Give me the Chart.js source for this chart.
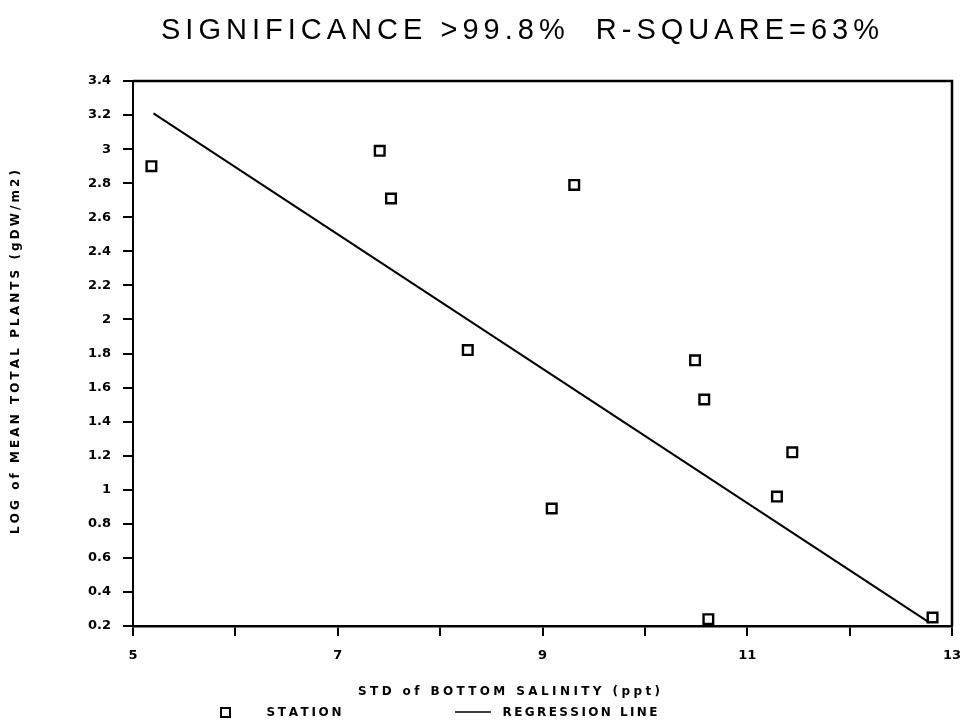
<!DOCTYPE html>
<html>
<head>
<meta charset="utf-8">
<style>
  html, body { margin: 0; padding: 0; background: #fff; }
  canvas { display: block; }
</style>
<script src="https://cdn.jsdelivr.net/npm/chart.js@4.4.1/dist/chart.umd.min.js"></script>
</head>
<body>
<canvas id="plot" width="963" height="727"></canvas>
<script>
// Station scatter: log plant biomass vs. std of bottom salinity, with fitted line.

const stationSalinityStd = [5.18, 7.41, 7.52, 8.27, 9.09, 9.31, 10.49, 10.58, 10.62, 11.29, 11.44, 12.81];
const stationLogPlants   = [2.90, 2.99, 2.71, 1.82, 0.89, 2.79, 1.76, 1.53, 0.24, 0.96, 1.22, 0.25];

// endpoints of the regression line
const fitX = [5.2, 12.78];
const fitY = [3.21, 0.22];

const titleText = 'SIGNIFICANCE >99.8%  R-SQUARE=63%';
const xTitle = 'STD of BOTTOM SALINITY (ppt)';
const yTitle = 'LOG of MEAN TOTAL PLANTS (gDW/m2)';
const legendLabels = ['STATION', 'REGRESSION LINE'];

const INK = '#000';

// draw text with its letters spread so it fills `width`, centred on (cx, cy)
function spacedText(ctx, text, cx, cy, width, rotate) {
  const chars = [...text];
  const widths = chars.map(ch => ctx.measureText(ch).width);
  const total = widths.reduce((s, w) => s + w, 0);
  const gap = chars.length > 1 ? (width - total) / (chars.length - 1) : 0;
  ctx.save();
  ctx.translate(cx, cy);
  if (rotate) ctx.rotate(rotate);
  ctx.textAlign = 'left';
  ctx.textBaseline = 'middle';
  let x = -width / 2;
  chars.forEach((ch, i) => {
    ctx.fillText(ch, x, 0);
    x += widths[i] + gap;
  });
  ctx.restore();
}

const frameAndText = {
  id: 'frameAndText',
  afterDraw(chart) {
    const { ctx, chartArea: a } = chart;
    ctx.save();
    ctx.strokeStyle = INK;
    ctx.fillStyle = INK;

    // top and right edges of the frame
    ctx.lineWidth = 2.5;
    ctx.beginPath();
    ctx.moveTo(a.left, a.top);
    ctx.lineTo(a.right, a.top);
    ctx.lineTo(a.right, a.bottom);
    ctx.stroke();

    // heading
    ctx.font = '29px "Liberation Sans"';
    spacedText(ctx, titleText, 520, 31, 718);

    // axis titles
    ctx.font = 'bold 12px "DejaVu Sans"';
    spacedText(ctx, xTitle, 509, 692, 302);
    spacedText(ctx, yTitle, 16, 352, 364, -Math.PI / 2);

    // key
    ctx.lineWidth = 2;
    ctx.strokeRect(221, 708, 9, 9);
    spacedText(ctx, legendLabels[0], 304, 713, 75);
    ctx.lineWidth = 1.5;
    ctx.beginPath();
    ctx.moveTo(455, 712);
    ctx.lineTo(491, 712);
    ctx.stroke();
    spacedText(ctx, legendLabels[1], 580, 713, 155);
    ctx.restore();
  },
};

const stations = stationSalinityStd.map((x, i) => ({ x, y: stationLogPlants[i] }));
const fitLine = fitX.map((x, i) => ({ x, y: fitY[i] }));

const tickFont = { family: '"DejaVu Sans"', size: 13, weight: 'bold' };

new Chart(document.getElementById('plot'), {
  type: 'scatter',
  data: {
    datasets: [
      {
        label: legendLabels[0],
        data: stations,
        pointStyle: 'rect',
        pointRadius: 6.8,
        pointHoverRadius: 6.8,
        pointBorderWidth: 2.4,
        pointBorderColor: INK,
        pointBackgroundColor: '#fff',
        showLine: false,
      },
      {
        label: legendLabels[1],
        data: fitLine,
        showLine: true,
        borderColor: INK,
        borderWidth: 2,
        pointRadius: 0,
        pointHoverRadius: 0,
        fill: false,
      },
    ],
  },
  options: {
    responsive: false,
    animation: false,
    events: [],
    layout: { padding: { top: 81, right: 11, left: 0, bottom: 0 } },
    plugins: {
      legend: { display: false },
      title: { display: false },
      tooltip: { enabled: false },
    },
    scales: {
      x: {
        type: 'linear',
        min: 5,
        max: 13,
        afterFit(scale) {
          scale.height = 101;
          // let the end labels hang over the edges instead of shrinking the plot
          scale.paddingLeft = 0;
          scale.paddingRight = 0;
        },
        ticks: {
          stepSize: 1,
          autoSkip: false,
          maxRotation: 0,
          color: INK,
          font: tickFont,
          padding: 12,
          callback: v => (v % 2 === 1 ? String(v) : ''),
        },
        grid: {
          drawOnChartArea: false,
          drawTicks: true,
          tickLength: 10,
          color: INK,
          lineWidth: 2,
        },
        border: { display: true, color: INK, width: 2.5 },
      },
      y: {
        type: 'linear',
        min: 0.2,
        max: 3.4,
        afterFit(scale) {
          scale.width = 133;
          scale.paddingTop = 0;
          scale.paddingBottom = 0;
        },
        ticks: {
          stepSize: 0.2,
          autoSkip: false,
          color: INK,
          font: tickFont,
          padding: 12,
          callback: v => String(Math.round(v * 10) / 10),
        },
        grid: {
          drawOnChartArea: false,
          drawTicks: true,
          tickLength: 10,
          color: INK,
          lineWidth: 2,
        },
        border: { display: true, color: INK, width: 2 },
      },
    },
  },
  plugins: [frameAndText],
});
</script>
</body>
</html>
